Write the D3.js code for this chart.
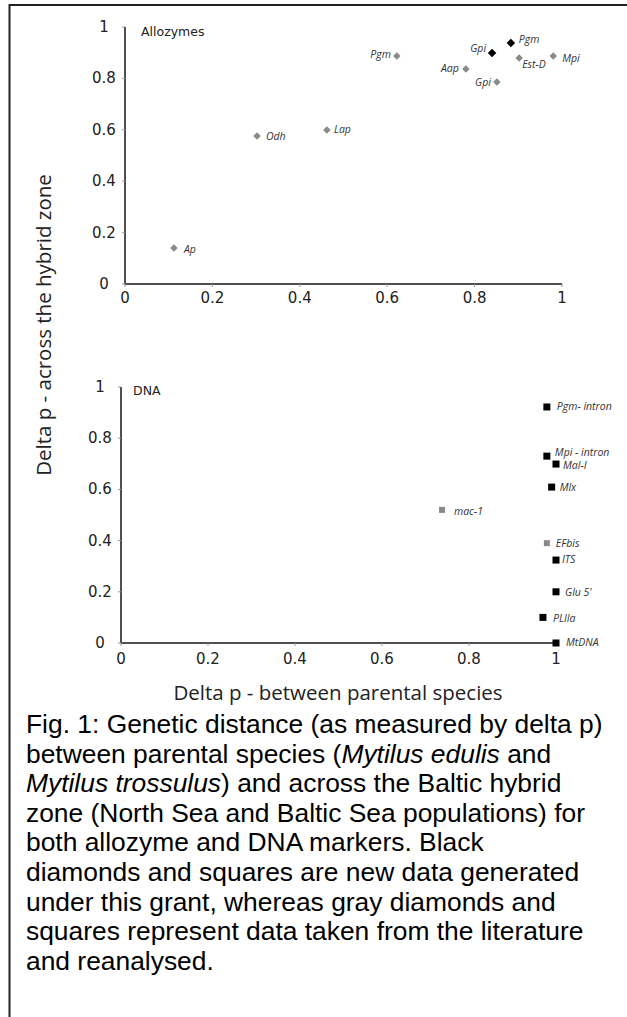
<!DOCTYPE html>
<html><head><meta charset="utf-8">
<script src="https://cdn.jsdelivr.net/npm/d3@7/dist/d3.min.js"></script>
<style>
html,body{margin:0;padding:0;background:#fff;}
svg{display:block;}
</style></head>
<body>
<svg id="c" width="627" height="1017"></svg>
<script>
// ---------- data ----------
const tickValues = [0, 0.2, 0.4, 0.6, 0.8, 1];
const tickLabels = ["0", "0.2", "0.4", "0.6", "0.8", "1"];

const allozymeNames  = ["Ap", "Odh", "Lap", "Pgm", "Aap", "Gpi", "Gpi", "Pgm", "Est-D", "Mpi"];
const allozymeX      = [0.112, 0.302, 0.462, 0.622, 0.780, 0.851, 0.840, 0.883, 0.902, 0.980];
const allozymeY      = [0.14, 0.576, 0.599, 0.887, 0.837, 0.786, 0.899, 0.938, 0.879, 0.887];
const allozymeSource = ["lit", "lit", "lit", "lit", "lit", "lit", "new", "new", "lit", "lit"];

const dnaNames  = ["Pgm- intron", "Mpi - intron", "Mal-I", "Mlx", "mac-1", "EFbis", "ITS", "Glu 5'", "PLIIa", "MtDNA"];
const dnaX      = [0.979, 0.979, 1.0, 0.99, 0.738, 0.979, 1.0, 1.0, 0.97, 1.0];
const dnaY      = [0.922, 0.730, 0.699, 0.609, 0.52, 0.39, 0.324, 0.20, 0.10, 0.0];
const dnaSource = ["new", "new", "new", "new", "lit", "lit", "new", "new", "new", "new"];

const yTitle = "Delta p - across the hybrid zone";
const xTitle = "Delta p - between parental species";
const captionLines = [
  [["Fig. 1: Genetic distance (as measured by delta p)", false]],
  [["between parental species (", false], ["Mytilus edulis", true], [" and", false]],
  [["Mytilus trossulus", true], [") and across the Baltic hybrid", false]],
  [["zone (North Sea and Baltic Sea populations) for", false]],
  [["both allozyme and DNA markers. Black", false]],
  [["diamonds and squares are new data generated", false]],
  [["under this grant, whereas gray diamonds and", false]],
  [["squares represent data taken from the literature", false]],
  [["and reanalysed.", false]]
];

// ---------- layout (label placement: [dx, dy, anchor]) ----------
const allozymeLabelPos = [[10,5,"start"],[9,4,"start"],[7,3,"start"],[-6,2,"end"],[-7,3,"end"],
  [-6,4,"end"],[-6,-1,"end"],[8,0,"start"],[3,10,"start"],[9,6,"start"]];
const dnaLabelPos = [[10,3,"start"],[8,0,"start"],[7,5,"start"],[8,4,"start"],[12,5,"start"],
  [9,4,"start"],[6,3,"start"],[9,4,"start"],[10,5,"start"],[10,3,"start"]];

const svg = d3.select("#c");
const axisColor = "#505050";
const grayMark = "#8a8a8a";

// frame
svg.append("line").attr("x1",9).attr("x2",627).attr("y1",5).attr("y2",5).attr("stroke","#222").attr("stroke-width",2);
svg.append("line").attr("x1",9.5).attr("x2",9.5).attr("y1",4).attr("y2",1017).attr("stroke","#222").attr("stroke-width",2);

function panel(opt){
  const x = d3.scaleLinear().domain([0,1]).range(opt.xr);
  const y = d3.scaleLinear().domain([0,1]).range(opt.yr);
  const g = svg.append("g");
  g.append("line").attr("x1",x(0)).attr("x2",x(1)).attr("y1",y(0)).attr("y2",y(0))
    .attr("stroke",axisColor).attr("stroke-width",2);
  g.append("line").attr("x1",x(0)).attr("x2",x(0)).attr("y1",y(0)).attr("y2",y(1))
    .attr("stroke",axisColor).attr("stroke-width",2);
  tickValues.forEach((v,i)=>{
    g.append("line").attr("x1",x(v)).attr("x2",x(v)).attr("y1",y(0)).attr("y2",y(0)+3)
      .attr("stroke","#999").attr("stroke-width",1);
    g.append("line").attr("x1",x(0)-3).attr("x2",x(0)).attr("y1",y(v)).attr("y2",y(v))
      .attr("stroke","#999").attr("stroke-width",1);
    g.append("text").attr("x",x(v)).attr("y",y(0)+opt.xLabOff)
      .attr("text-anchor","middle").attr("font-family","DejaVu Sans").attr("font-size",15)
      .attr("fill","#222").text(tickLabels[i]);
    g.append("text").attr("x",x(0)-opt.yLabOff).attr("y",y(v)+5)
      .attr("text-anchor","middle").attr("font-family","DejaVu Sans").attr("font-size",15)
      .attr("fill","#222").text(tickLabels[i]);
  });
  g.append("text").attr("x",opt.titleX).attr("y",opt.titleY).attr("font-family","DejaVu Sans")
    .attr("font-size",12.5).attr("fill","#222").text(opt.title);
  opt.names.forEach((n,i)=>{
    const px = x(opt.xs[i]), py = y(opt.ys[i]);
    const isNew = opt.src[i]==="new";
    if(opt.shape==="diamond"){
      const s = isNew ? 8.5 : 7.5;
      g.append("path").attr("d",d3.symbol().type(d3.symbolSquare).size(s*s/2)())
        .attr("transform",`translate(${px},${py}) rotate(45)`)
        .attr("fill", isNew ? "#000" : grayMark);
    } else {
      const s = isNew ? 7 : 6;
      g.append("rect").attr("x",px-s/2).attr("y",py-s/2).attr("width",s).attr("height",s)
        .attr("fill", isNew ? "#000" : grayMark);
    }
    const lp = opt.lpos[i];
    g.append("text").attr("x",px+lp[0]).attr("y",py+lp[1]).attr("text-anchor",lp[2])
      .attr("font-family","Open Sans").attr("font-style","italic").attr("font-size",10.5)
      .attr("fill","#333").text(n);
  });
}

panel({xr:[125,562], yr:[284,27], xLabOff:19, yLabOff:21, title:"Allozymes", titleX:141, titleY:36,
  names:allozymeNames, xs:allozymeX, ys:allozymeY, src:allozymeSource, lpos:allozymeLabelPos, shape:"diamond"});
panel({xr:[121,556], yr:[643,387], xLabOff:21, yLabOff:21, title:"DNA", titleX:133, titleY:395,
  names:dnaNames, xs:dnaX, ys:dnaY, src:dnaSource, lpos:dnaLabelPos, shape:"square"});

// axis titles
svg.append("text").attr("transform","translate(51,325) rotate(-90)").attr("text-anchor","middle")
  .attr("font-family","Open Sans").attr("font-size",20.5).attr("fill","#222").text(yTitle);
svg.append("text").attr("x",338).attr("y",700).attr("text-anchor","middle")
  .attr("font-family","Open Sans").attr("font-size",20.5).attr("fill","#222").text(xTitle);

// caption
const cap = svg.append("text").attr("font-family","Liberation Sans, Arial").attr("font-size",26.4).attr("fill","#000");
captionLines.forEach((parts,i)=>{
  parts.forEach((p,j)=>{
    const t = cap.append("tspan").text(p[0]);
    if(j===0) t.attr("x",26).attr("y",733 + i*29.6);
    if(p[1]) t.attr("font-style","italic");
  });
});
</script>
</body></html>
